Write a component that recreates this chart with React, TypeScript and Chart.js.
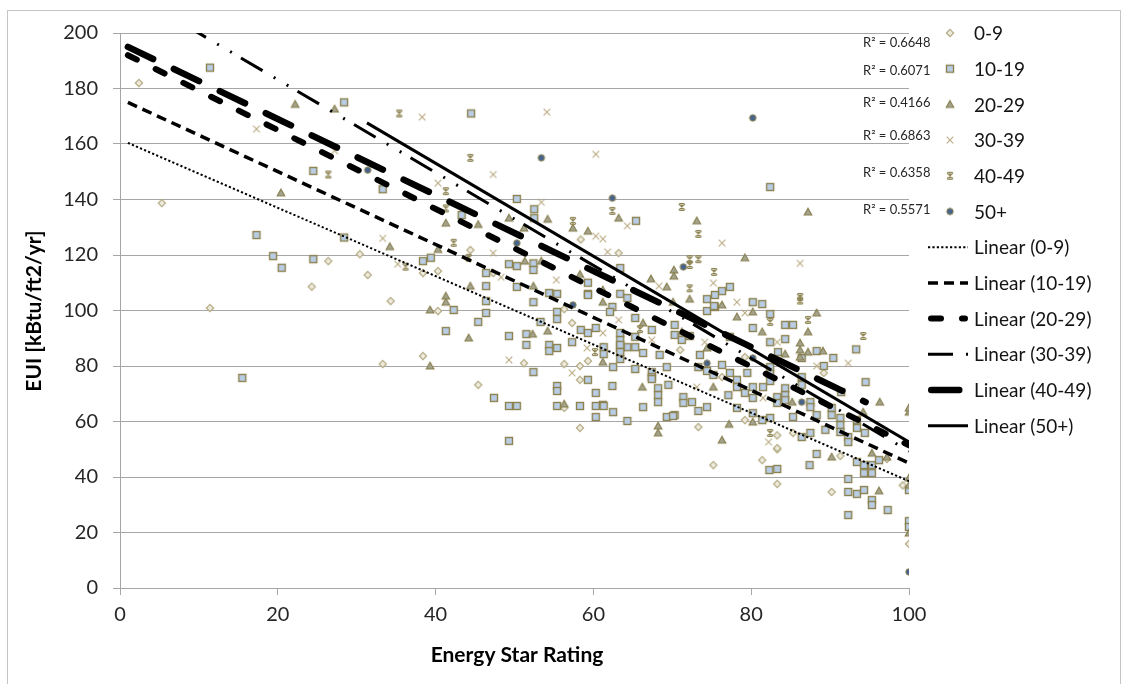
import React, { useEffect, useRef } from 'react';
import { Chart, registerables } from 'chart.js';

Chart.register(...registerables);

type P = [number, number];

const FONT = 'Lato, "Open Sans", sans-serif';

const seriesNames = ['0-9', '10-19', '20-29', '30-39', '40-49', '50+'];
const rSquared = ['0.6648', '0.6071', '0.4166', '0.6863', '0.6358', '0.5571'];
const xTitle = 'Energy Star Rating';
const yTitle = 'EUI [kBtu/ft2/yr]';

const pts0to9: P[] = [
  [2.4, 182], [5.3, 138.7], [11.4, 100.9], [24.3, 108.6], [34.3, 103.4], [33.3, 80.7], [44.4, 121.8],
  [26.4, 117.8], [30.4, 120.3], [31.4, 112.8], [40.3, 114.2], [47.3, 113.5], [58.4, 125.6], [63.2, 120.7],
  [79.2, 83.2], [71, 85.8], [61.2, 86.8], [76.3, 76], [89.2, 77.5], [83.3, 50], [85.3, 55.9], [75.2, 44.3],
  [73.3, 58], [83.3, 37.5], [81.4, 46.1], [91.3, 47.6], [90.2, 34.6], [97.2, 46.5], [100, 15.9], [99.2, 37],
  [40.3, 99.8], [38.4, 83.6], [45.4, 73.2], [51.2, 81], [56.3, 80.7], [56.3, 64.9], [57.3, 95.5], [56.3, 100.5],
  [58.3, 80], [59.3, 81.8], [58.3, 75], [58.3, 57.7], [38.4, 113.5], [79.2, 60.5], [83.3, 55], [83.3, 50.4],
];

const pts10to19: P[] = [
  [11.4, 187.5], [17.3, 127.2], [19.4, 119.6], [20.5, 115.4], [15.5, 75.7], [28.4, 175], [44.5, 171],
  [24.5, 150.3], [33.3, 143.7], [43.3, 134.4], [50.3, 140.2], [52.5, 136.5], [52.5, 133.3], [49.3, 116.7],
  [50.3, 116], [52.4, 117], [59.3, 110], [59.3, 106], [28.4, 126.3], [24.5, 118.5], [38.4, 117.8], [39.4, 119],
  [46.4, 113.5], [46.4, 108.8], [50.3, 108.5], [54.4, 106.3], [55.4, 106], [65.4, 132.3], [82.4, 144.5],
  [76.3, 107], [77.3, 108.5], [80.2, 103], [81.4, 102.3], [74.4, 104.1], [75.4, 105.6], [75.4, 101.3],
  [74.4, 99.8], [63.4, 115.3], [63.4, 106], [64.3, 104.5], [62.4, 101.3], [62.1, 99.5], [65.3, 97.3],
  [67.4, 93], [65.3, 90.5], [63.4, 89.4], [64.3, 86.8], [65.3, 86.8], [63.4, 86.5], [66.3, 84.7], [62.5, 79.6],
  [67.4, 77.8], [67.4, 76], [69.3, 79.6], [68.4, 84], [70.3, 91.2], [71.2, 89.4], [70.3, 94.8], [69.5, 73.2],
  [68.2, 72], [68.2, 69.5], [68.2, 67], [71.4, 68.8], [71.4, 66.7], [72.5, 67], [70.3, 62.3], [69.3, 61.6],
  [62.5, 63.4], [61.2, 66], [73.5, 84], [73.3, 79.6], [74.4, 78.2], [75.2, 76.8], [76.3, 80.4], [77.3, 77.5],
  [78.2, 75], [79.5, 77.5], [78.2, 72.4], [79.2, 70.3], [80.2, 72.4], [80.2, 68.5], [77.1, 69.5], [78.2, 64.9],
  [80.2, 63], [82.4, 88.6], [80.2, 93.7], [72.2, 90.8], [77.3, 90.5], [66.3, 65.2], [82.4, 98.7], [84.3, 94.8],
  [85.3, 94.8], [84.3, 89.7], [83.4, 85], [86.4, 82.9], [88.3, 85.4], [90.4, 82.9], [93.3, 86], [94.5, 74.2],
  [89.2, 80], [91.4, 70.6], [82.4, 79.6], [82.4, 77.1], [82.4, 74.6], [81.5, 72.4], [84.3, 72], [84.3, 69.5],
  [84.3, 67.7], [83.3, 68.8], [83.3, 66.7], [86.4, 76], [86.4, 73.2], [87.5, 67], [87.5, 65.2], [88.3, 62.3],
  [90.2, 64.9], [90.2, 62.3], [89.4, 57], [91.3, 61.3], [91.3, 58.7], [91.3, 56.2], [92.3, 54.4], [92.3, 52.6],
  [88.3, 48.3], [87.5, 55.9], [82.4, 61.3], [86.4, 54.4], [93.4, 57.7], [94.4, 55.9], [93.4, 60.5], [85.3, 61.6],
  [70.1, 62], [82.3, 42.5], [83.3, 42.9], [87.4, 44.3], [92.3, 39.3], [92.3, 34.6], [93.4, 33.9], [94.3, 35.3],
  [95.3, 31.7], [95.3, 29.9], [92.3, 26.3], [97.3, 28.1], [94.3, 44.3], [94.3, 41.4], [95.3, 44.3], [95.3, 41.4],
  [96.2, 46.1], [93.4, 45.4], [100, 35.3], [100, 24.1], [100, 22], [75.3, 101.6], [42.3, 100.2], [46.4, 103.4],
  [46.4, 99.1], [45.4, 95.9], [41.3, 92.6], [47.4, 68.5], [49.3, 65.6], [50.3, 65.6], [49.3, 53], [49.3, 90.8],
  [51.5, 91.5], [51.5, 87.6], [52.4, 77.8], [53.3, 95.9], [55.4, 99.5], [55.4, 96.9], [54.4, 87.6], [54.4, 85.4],
  [55.4, 86.5], [55.4, 72.8], [55.4, 71], [55.4, 65.6], [57.3, 88.6], [58.4, 93], [59.3, 91.9], [59.3, 75],
  [58.3, 65.6], [60.3, 93.7], [60.3, 70.3], [60.3, 65.6], [61.3, 65.6], [60.3, 61.6], [62.4, 72.8], [61.3, 86.8],
  [61.3, 84.3], [64.3, 60.2], [63.4, 91.9], [63.4, 87.6], [63.4, 85], [63.4, 82.5], [65.3, 78.9], [67.4, 75.3],
  [52.4, 114.6], [59.3, 105.6], [52.4, 103], [73.3, 63.8], [74.4, 65.2], [81.4, 60.5],
];

const pts20to29: P[] = [
  [22.2, 174.3], [20.4, 142.4], [27.2, 172.6], [41.3, 131.5], [49.3, 133.3], [54.2, 132.9], [51.2, 129.7],
  [45.4, 131], [34.2, 123], [40.3, 122], [51.3, 117.8], [53.4, 117.8], [58.3, 113], [44.4, 108.8], [52.4, 108.8],
  [41.3, 105.2], [87.2, 135.5], [63.2, 133.3], [73.1, 132.3], [79.2, 119], [70.2, 114.6], [70.2, 112.4],
  [67.3, 111.4], [69.3, 108.5], [72.2, 104.1], [70.1, 103], [61.2, 103], [66.3, 95.5], [61.2, 81.4], [71.2, 92.3],
  [74.4, 86.5], [75.2, 72.4], [81.4, 92.3], [80.2, 99.5], [78.2, 97.7], [66.2, 72.4], [88.3, 99.1], [87.2, 92.3],
  [86.2, 88.3], [86.2, 85.8], [86.2, 83.2], [84.3, 84.3], [87.2, 85], [89.1, 85.4], [96.3, 67], [100, 63.4],
  [100, 64.9], [85.2, 67], [94.2, 63.4], [95.3, 48.6], [97.2, 47.2], [90.2, 47.2], [96.2, 35], [100, 19.8],
  [100, 39.6], [100, 37], [68.2, 58.4], [68.2, 55.9], [76.3, 53.3], [77.2, 59], [80.2, 59.8], [41.3, 103],
  [39.3, 100.2], [44.2, 90.1], [39.3, 80], [52.3, 91.5], [54.2, 92.6], [56.3, 66.3], [57.4, 129.7], [59.3, 128.6],
  [61.2, 107.4], [76.3, 102],
];

const pts30to39: P[] = [
  [17.3, 165.4], [38.3, 169.7], [54.1, 171.5], [60.3, 156.3], [47.3, 149], [27.2, 157.6], [40.3, 145.9],
  [53.4, 139], [33.3, 126], [47.3, 120.7], [55.3, 111], [60.3, 126.8], [35.2, 116.7], [64.3, 130.5],
  [61.2, 125.8], [76.3, 124.3], [86.2, 117], [68.3, 108.8], [75.2, 109.9], [78.2, 103], [63.2, 96.6],
  [61.2, 91.9], [67.4, 89.4], [74.1, 88.6], [73.1, 72.4], [81.5, 68.5], [79.2, 99.1], [83.3, 88.6], [92.3, 81],
  [88.3, 80], [82.2, 52.6], [48.3, 112], [61.8, 121.1], [59.2, 86.5], [57.3, 77.5], [49.3, 82.2],
];

const pts40to49: P[] = [
  [35.4, 171], [44.4, 155], [26.4, 149], [41.3, 143], [41.3, 136.8], [42.3, 124.4], [44.2, 119], [36.2, 115.8],
  [62.4, 135.9], [71.2, 137.3], [73.3, 127.6], [72.2, 118.5], [73.3, 118.5], [72.2, 116.4], [72.2, 108],
  [75.3, 113.9], [86.2, 104.9], [86.2, 103.6], [87.2, 96.6], [82.4, 95.9], [94.2, 90.8], [82.4, 55.9],
  [57.4, 132.3], [65.9, 93.3], [60.2, 85],
];

const pts50plus: P[] = [
  [80.2, 169.4], [53.4, 155], [31.4, 150.6], [62.4, 140.5], [50.3, 124.3], [71.4, 115.7], [74.4, 81],
  [80.2, 82.9], [86.4, 67], [100, 5.8], [57.4, 102],
];

const trend0to9: P[] = [[1, 160.4], [100, 38.5]];
const trend10to19: P[] = [[1, 175], [100, 45]];
const trend20to29: P[] = [[1, 192], [100, 51.4]];
const trend30to39: P[] = [[1, 215], [100, 49.3]];
const trend40to49: P[] = [[1, 195], [94.5, 67]];
const trend50plus: P[] = [[31.3, 167.6], [100, 52.6]];

const seriesPoints = [pts0to9, pts10to19, pts20to29, pts30to39, pts40to49, pts50plus];
const trendPoints = [trend0to9, trend10to19, trend20to29, trend30to39, trend40to49, trend50plus];

const markerKinds = ['diamond', 'square', 'triangle', 'cross', 'star', 'circle'];
const trendStyles = [
  { width: 2, dash: [2.2, 2.2], cap: 'butt' },
  { width: 3.5, dash: [10, 6], cap: 'butt' },
  { width: 6, dash: [10, 21], cap: 'round' },
  { width: 3, dash: [25, 13, 2, 13, 2, 10.6], cap: 'butt' },
  { width: 6.5, dash: [28, 23], cap: 'round' },
  { width: 3, dash: [] as number[], cap: 'butt' },
];

function makeMarker(kind: string): HTMLCanvasElement {
  const c = document.createElement('canvas');
  c.width = 12;
  c.height = 12;
  const g = c.getContext('2d')!;
  const m = 6;
  g.lineJoin = 'miter';
  if (kind === 'diamond') {
    g.beginPath();
    g.moveTo(m, m - 3.6); g.lineTo(m + 3.6, m); g.lineTo(m, m + 3.6); g.lineTo(m - 3.6, m); g.closePath();
    g.fillStyle = '#eeecdf'; g.fill();
    g.strokeStyle = '#b3aa82'; g.lineWidth = 1.2; g.stroke();
  } else if (kind === 'square') {
    g.fillStyle = '#b9cde5'; g.fillRect(2.5, 2.5, 7, 7);
    g.strokeStyle = '#8c8250'; g.lineWidth = 1.4; g.strokeRect(2.5, 2.5, 7, 7);
  } else if (kind === 'triangle') {
    g.beginPath();
    g.moveTo(m, m - 3.8); g.lineTo(m + 3.8, m + 3); g.lineTo(m - 3.8, m + 3); g.closePath();
    g.fillStyle = '#a3a38e'; g.fill();
    g.strokeStyle = '#877e4c'; g.lineWidth = 1.1; g.stroke();
  } else if (kind === 'cross') {
    g.strokeStyle = '#bcae86'; g.lineWidth = 1.2;
    g.beginPath();
    g.moveTo(m - 3.3, m - 3.3); g.lineTo(m + 3.3, m + 3.3);
    g.moveTo(m + 3.3, m - 3.3); g.lineTo(m - 3.3, m + 3.3);
    g.stroke();
  } else if (kind === 'star') {
    g.strokeStyle = '#8c8250'; g.lineWidth = 1.1;
    g.beginPath();
    g.moveTo(m - 3, m - 3); g.lineTo(m + 3, m + 3);
    g.moveTo(m + 3, m - 3); g.lineTo(m - 3, m + 3);
    g.moveTo(m, m - 3.5); g.lineTo(m, m + 3.5);
    g.moveTo(m - 2.5, m - 3.5); g.lineTo(m + 2.5, m - 3.5);
    g.moveTo(m - 2.5, m + 3.5); g.lineTo(m + 2.5, m + 3.5);
    g.stroke();
  } else {
    g.beginPath();
    g.arc(m, m, 3.2, 0, Math.PI * 2);
    g.fillStyle = '#46638c'; g.fill();
    g.strokeStyle = '#8c8250'; g.lineWidth = 1; g.stroke();
  }
  return c;
}

export default function App() {
  const ref = useRef<HTMLCanvasElement | null>(null);

  useEffect(() => {
    if (!ref.current) return;
    const markers = markerKinds.map(makeMarker);

    const scatterSets = seriesPoints.map((pts, i) => ({
      label: seriesNames[i],
      data: pts.map(([x, y]) => ({ x, y })),
      pointStyle: markers[i] as any,
      pointRadius: 4,
      showLine: false,
      order: 20 - i,
    }));

    const trendSets = trendPoints.map((pts, i) => ({
      label: `Linear (${seriesNames[i]})`,
      data: pts.map(([x, y]) => ({ x, y })),
      showLine: true,
      pointRadius: 0,
      borderColor: '#000000',
      backgroundColor: '#000000',
      borderWidth: trendStyles[i].width,
      borderDash: trendStyles[i].dash,
      borderCapStyle: trendStyles[i].cap as CanvasLineCap,
      fill: false,
      order: 5 - i,
    }));

    const legendY0 = 33;
    const legendStep = 35.7;
    const r2Y = [43, 71, 103, 136, 173, 210];

    const extras = {
      id: 'extras',
      afterDraw(chart: any) {
        const ctx: CanvasRenderingContext2D = chart.ctx;
        ctx.save();
        ctx.strokeStyle = '#c4c4c4';
        ctx.lineWidth = 1;
        ctx.strokeRect(7.5, 10.5, 1113, 700);

        ctx.fillStyle = '#000000';
        ctx.font = `bold 21px ${FONT}`;
        ctx.textAlign = 'center';
        ctx.textBaseline = 'middle';
        ctx.fillText(xTitle, 517, 655);
        ctx.save();
        ctx.translate(34, 311);
        ctx.rotate(-Math.PI / 2);
        ctx.fillText(yTitle, 0, 0);
        ctx.restore();

        ctx.font = `13px ${FONT}`;
        ctx.textAlign = 'left';
        ctx.fillStyle = '#262626';
        rSquared.forEach((r, i) => ctx.fillText(`R\u00B2 = ${r}`, 863, r2Y[i]));

        ctx.font = `19px ${FONT}`;
        ctx.fillStyle = '#141414';
        seriesNames.forEach((name, i) => {
          const y = legendY0 + legendStep * i;
          const mk = markers[i];
          ctx.drawImage(mk, 950 - mk.width / 2, y - mk.height / 2);
          ctx.fillText(name, 974, y + 1);
        });
        seriesNames.forEach((name, i) => {
          const y = legendY0 + legendStep * (i + 6);
          const st = trendStyles[i];
          ctx.save();
          ctx.strokeStyle = '#000000';
          ctx.lineWidth = st.width;
          ctx.lineCap = st.cap as CanvasLineCap;
          ctx.setLineDash(st.dash);
          ctx.beginPath();
          const x0 = 928 + (st.cap === 'round' ? st.width / 2 : 0);
          const x1 = 968 - (st.cap === 'round' ? st.width / 2 : 0);
          ctx.moveTo(x0, y);
          ctx.lineTo(x1, y);
          ctx.stroke();
          ctx.restore();
          ctx.fillText(`Linear (${name})`, 974, y + 1);
        });
        ctx.restore();
      },
    };

    const chart = new Chart(ref.current, {
      type: 'scatter',
      data: { datasets: [...trendSets, ...scatterSets] as any },
      options: {
        animation: false,
        responsive: false,
        devicePixelRatio: 1,
        events: [],
        layout: { padding: { left: 0, top: 33, right: 219, bottom: 0 } },
        plugins: { legend: { display: false }, tooltip: { enabled: false } },
        scales: {
          x: {
            type: 'linear',
            min: 0,
            max: 100,
            ticks: { stepSize: 20, font: { family: FONT, size: 20 }, color: '#262626', padding: 8, maxRotation: 0 },
            grid: { drawOnChartArea: false, drawTicks: true, tickLength: 7, color: '#a6a6a6' },
            border: { color: '#a6a6a6' },
            afterFit: (s: any) => { s.height = 96; },
          },
          y: {
            type: 'linear',
            min: 0,
            max: 200,
            ticks: { stepSize: 20, font: { family: FONT, size: 20 }, color: '#262626', padding: 15 },
            grid: { drawTicks: true, tickLength: 7, color: '#a6a6a6' },
            border: { color: '#a6a6a6' },
            afterFit: (s: any) => { s.width = 120; },
          },
        },
      },
      plugins: [extras],
    });

    return () => chart.destroy();
  }, []);

  return (
    <div style={{ position: 'fixed', left: 0, top: 0, width: 1128, height: 684, background: '#ffffff' }}>
      <canvas ref={ref} width={1128} height={684} style={{ display: 'block', width: 1128, height: 684 }} />
    </div>
  );
}
